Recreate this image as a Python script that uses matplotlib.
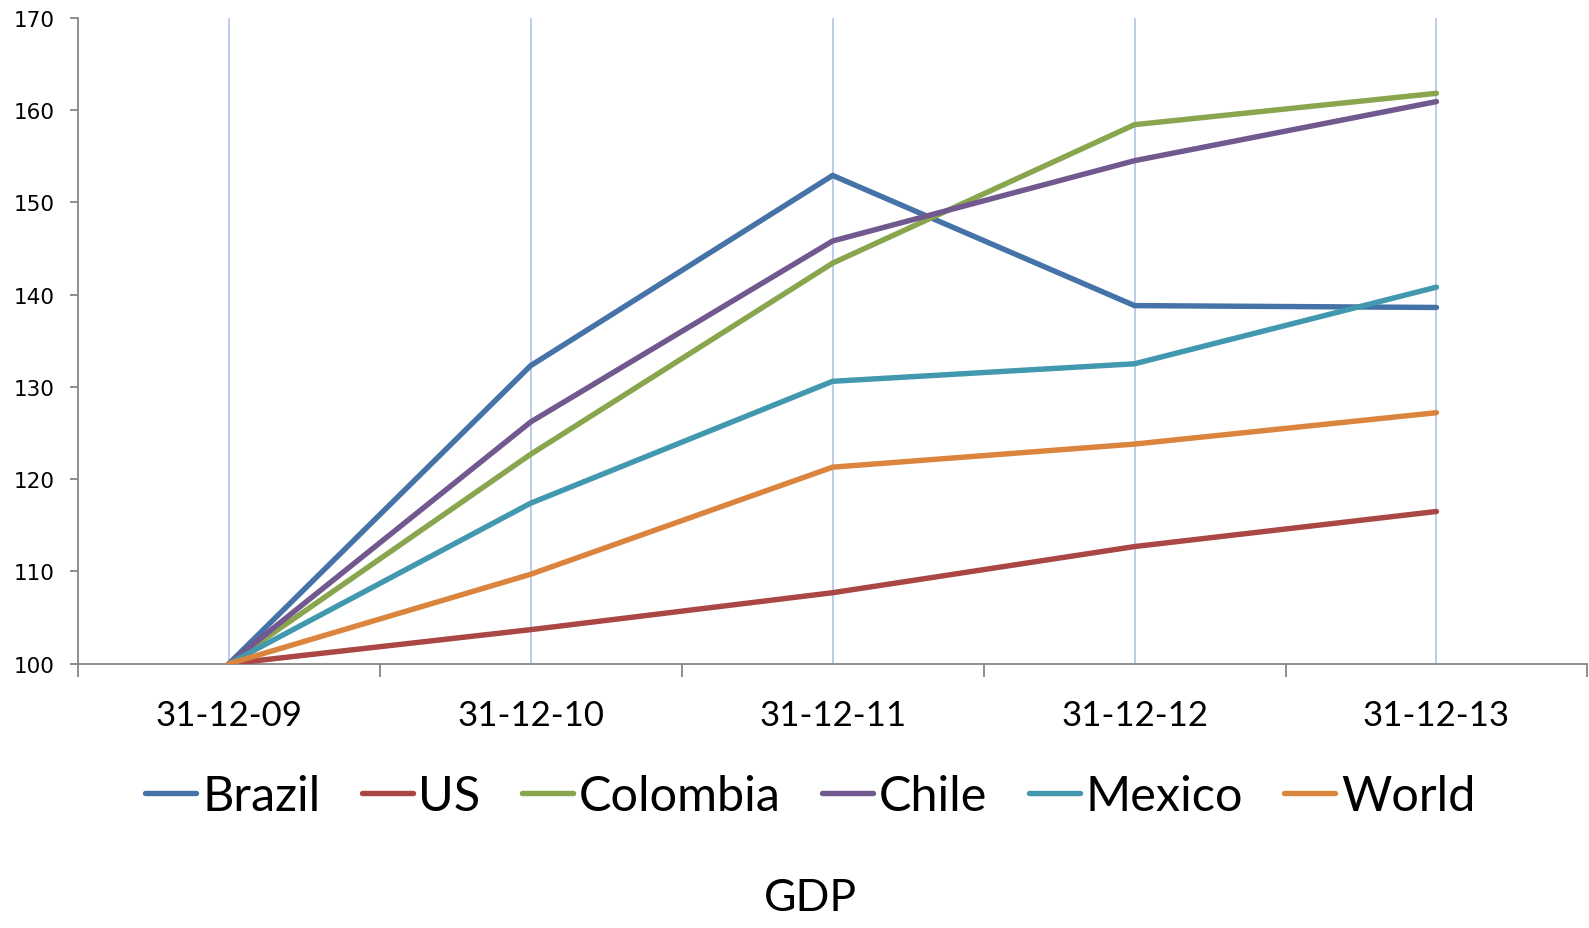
import matplotlib
matplotlib.use("Agg")
import matplotlib.pyplot as plt
import numpy as np

# categories and index values (base 100 at end of 2009)
dates = ["31-12-09", "31-12-10", "31-12-11", "31-12-12", "31-12-13"]
brazil = [100, 132.3, 152.9, 138.8, 138.6]
us = [100, 103.7, 107.7, 112.7, 116.5]
colombia = [100, 122.7, 143.4, 158.4, 161.8]
chile = [100, 126.2, 145.8, 154.5, 160.9]
mexico = [100, 117.4, 130.6, 132.5, 140.8]
world = [100, 109.7, 121.3, 123.8, 127.2]

series_names = ["Brazil", "US", "Colombia", "Chile", "Mexico", "World"]
series_vals = [brazil, us, colombia, chile, mexico, world]
colors = ["#4572A7", "#AA4643", "#89A54E", "#71588F", "#4198AF", "#DB843D"]

yticks = [100, 110, 120, 130, 140, 150, 160, 170]

txt_font = ["Lato", "DejaVu Sans"]

fig = plt.figure(figsize=(15.89, 9.29), dpi=100)
ax = fig.add_axes([0.049, 0.2844, 0.950, 0.6956])

x = np.arange(len(dates))
for name, vals, c in zip(series_names, series_vals, colors):
    ax.plot(x, vals, color=c, lw=3.9, label=name, solid_capstyle="round",
            solid_joinstyle="miter", zorder=3)

# light blue vertical gridlines at category centres
for xi in x:
    ax.axvline(xi, color="#AEC4E8", lw=1.2, zorder=1)

ax.set_xlim(-0.5, len(dates) - 0.5)
ax.set_ylim(100, 170)

# major ticks on category boundaries, labels on centres
ax.set_xticks(np.arange(-0.5, len(dates), 1.0))
ax.set_xticklabels([])
ax.set_xticks(x, minor=True)
ax.set_xticklabels(dates, minor=True, family=txt_font, fontsize=25)
ax.tick_params(axis="x", which="major", direction="out", length=9, width=1.3,
               color="#868686")
ax.tick_params(axis="x", which="minor", length=0, pad=25)

ax.set_yticks(yticks)
ax.set_yticklabels([str(v) for v in yticks], family="DejaVu Sans", fontsize=15.5)
ax.tick_params(axis="y", direction="out", length=6, width=1.3,
               color="#868686", pad=11)

for s in ["top", "right"]:
    ax.spines[s].set_visible(False)
for s in ["left", "bottom"]:
    ax.spines[s].set_color("#868686")
    ax.spines[s].set_linewidth(1.3)

leg = fig.legend(loc="center", bbox_to_anchor=(0.51, 0.1426), ncol=6,
                 frameon=False, prop={"family": txt_font, "size": 35},
                 handlelength=1.05, handletextpad=0.12, columnspacing=0.85)
for h in leg.get_lines():
    h.set_linewidth(3.9)

fig.text(0.51, 0.033, "GDP", ha="center", va="center",
         family=txt_font, fontsize=32)

fig.savefig("out.png", dpi=100)
